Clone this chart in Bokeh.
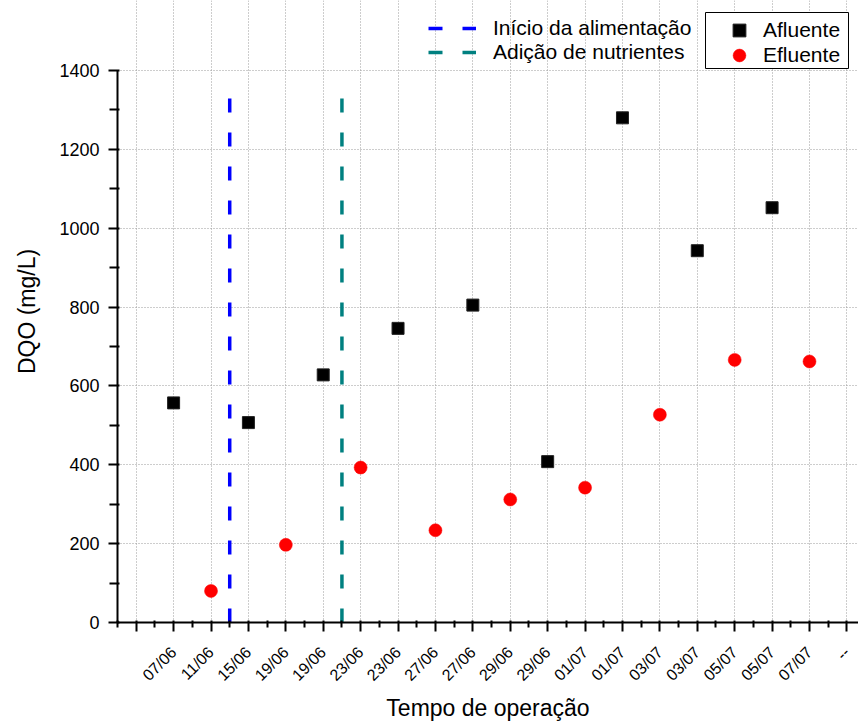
import math
from bokeh.plotting import figure
from bokeh.models import FixedTicker, Legend, LegendItem, Range1d, BoxAnnotation
from bokeh.embed import file_html
from bokeh.resources import INLINE

# ---- data ----
tick_labels = ["", "07/06", "11/06", "15/06", "19/06", "19/06", "23/06", "23/06",
               "27/06", "27/06", "29/06", "29/06", "01/07", "01/07", "03/07",
               "03/07", "05/07", "05/07", "07/07", "--"]
afluente_x = [1, 3, 5, 7, 9, 11, 13, 15, 17]
afluente_y = [557, 507, 628, 746, 805, 408, 1280, 943, 1052]
efluente_x = [2, 4, 6, 8, 10, 12, 14, 16, 18]
efluente_y = [80, 197, 393, 234, 312, 342, 527, 666, 662]
event_labels = ["Início da alimentação", "Adição de nutrientes"]
event_x = [2.5, 5.5]
event_y0 = [0, 0]
event_y1 = [1345, 1345]
event_colors = ["#0000ff", "#008080"]
y_ticks = [0, 200, 400, 600, 800, 1000, 1200, 1400]
y_minor = [100, 300, 500, 700, 900, 1100, 1300]
y_max = 1400

FONT = "Liberation Sans"

FRAME_H = 622
AXIS_H = 552  # pixel height of the 0..1400 axis

p = figure(frame_width=741, frame_height=FRAME_H,
           min_border_left=117, min_border_top=0, min_border_bottom=100,
           min_border_right=0,
           x_range=Range1d(-0.5, 19.31),
           y_range=Range1d(0, y_max * FRAME_H / AXIS_H),
           output_backend="svg", toolbar_location=None)
p.outline_line_color = None
p.background_fill_color = "white"
p.border_fill_color = "white"

# ticks
xt = list(range(len(tick_labels)))
p.xaxis.ticker = FixedTicker(ticks=xt, minor_ticks=[i + 0.5 for i in range(-1, len(tick_labels))])
p.xaxis.major_label_overrides = {i: lab for i, lab in enumerate(tick_labels)}
p.xaxis.major_label_orientation = math.pi / 4
p.yaxis.ticker = FixedTicker(ticks=y_ticks, minor_ticks=y_minor)
p.yaxis.bounds = (0, y_max)

for ax in (p.xaxis[0], p.yaxis[0]):
    ax.axis_line_width = 2
    ax.axis_line_color = "black"
    ax.major_tick_line_width = 2
    ax.minor_tick_line_width = 2
    ax.major_tick_line_color = "black"
    ax.minor_tick_line_color = "black"
    ax.major_tick_in = 2
    ax.minor_tick_in = 2
    ax.major_tick_out = 9
    ax.minor_tick_out = 5
    ax.major_label_text_font = FONT
    ax.axis_label_text_font = FONT
    ax.axis_label_text_font_style = "normal"
    ax.axis_label_text_color = "black"
    ax.major_label_text_color = "black"

p.xaxis.major_label_text_font_size = "16px"
p.xaxis.major_label_standoff = 18
p.xaxis.axis_label = "Tempo de operação"
p.xaxis.axis_label_text_font_size = "23px"
p.xaxis.axis_label_standoff = 2

p.yaxis.major_label_text_font_size = "18px"
p.yaxis.major_label_standoff = 9
p.yaxis.axis_label = "DQO (mg/L)"
p.yaxis.axis_label_text_font_size = "23px"
p.yaxis.axis_label_standoff = 16
p.yaxis.minor_tick_out = 8

# grid
for g in (p.xgrid[0], p.ygrid[0]):
    g.grid_line_color = "#9a9a9a"
    g.grid_line_dash = "1 2"
    g.grid_line_width = 1
p.xgrid.ticker = FixedTicker(ticks=xt)
p.ygrid.ticker = FixedTicker(ticks=y_ticks)
p.xgrid.bounds = (0, y_max)

# event lines
line_renderers = []
for ex, y0, y1, col in zip(event_x, event_y0, event_y1, event_colors):
    r = p.line(x=[ex, ex], y=[y0, y1], line_color=col, line_width=3.5,
               line_dash="14 20")
    line_renderers.append(r)

# markers
r_af = p.scatter(afluente_x, afluente_y, marker="square", size=12,
                 fill_color="black", line_color="#222222", line_width=1)
r_ef = p.scatter(efluente_x, efluente_y, marker="circle", size=13,
                 fill_color="red", line_color="red", line_width=0.5)

# legend for the event lines (no frame)
leg1 = Legend(items=[LegendItem(label=lab, renderers=[r])
                     for lab, r in zip(event_labels, line_renderers)],
              location=(311, 558), orientation="vertical",
              glyph_width=48, glyph_height=24, label_standoff=17,
              label_text_font=FONT, label_text_font_size="21px",
              label_text_color="black",
              padding=0, margin=0, spacing=0,
              border_line_alpha=0, background_fill_alpha=0)
p.add_layout(leg1)

# framed legend for the series: a frame plus one single-row legend per series
legend_box = BoxAnnotation(left=588, right=731, bottom=554, top=610,
                           left_units="screen", right_units="screen",
                           bottom_units="screen", top_units="screen",
                           fill_color="white", fill_alpha=1,
                           line_color="black", line_width=1, line_alpha=1)
p.add_layout(legend_box)

for lab, r, vy in (("Afluente", r_af, 576), ("Efluente", r_ef, 551)):
    lg = Legend(items=[LegendItem(label=lab, renderers=[r])],
                location=(606, vy), orientation="vertical",
                glyph_width=32, glyph_height=32, label_standoff=8,
                label_text_font=FONT, label_text_font_size="21px",
                label_text_color="black",
                padding=0, margin=0, spacing=0,
                border_line_alpha=0, background_fill_alpha=0)
    p.add_layout(lg)

open("out.html", "w").write(file_html(p, INLINE))
